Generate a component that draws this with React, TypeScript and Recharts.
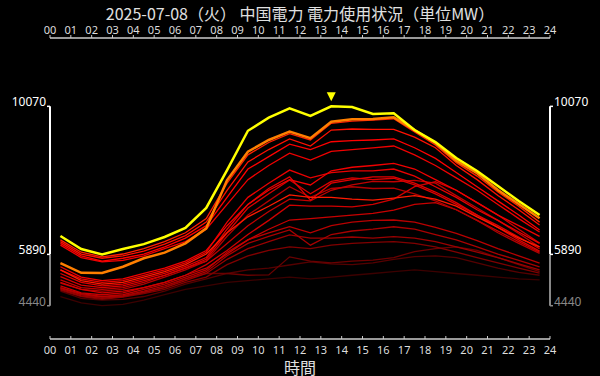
import React from 'react'
import { LineChart, Line, XAxis, YAxis, ReferenceLine, ReferenceDot } from 'recharts'

const hours = [0.5, 1.5, 2.5, 3.5, 4.5, 5.5, 6.5, 7.5, 8.5, 9.5, 10.5, 11.5, 12.5, 13.5, 14.5, 15.5, 16.5, 17.5, 18.5, 19.5, 20.5, 21.5, 22.5, 23.5]
const hourTicks = [0, 1, 2, 3, 4, 5, 6, 7, 8, 9, 10, 11, 12, 13, 14, 15, 16, 17, 18, 19, 20, 21, 22, 23, 24]
const yTicks = [4440, 5890, 10070]

// today's forecast (yellow) and yesterday (orange)
const today = [6410, 6040, 5890, 6040, 6180, 6380, 6635, 7200, 8270, 9380, 9750, 10015, 9800, 10070, 10050, 9855, 9875, 9400, 9060, 8610, 8245, 7820, 7395, 7000]
const yesterday = [5640, 5370, 5365, 5540, 5780, 5940, 6200, 6625, 7990, 8790, 9120, 9355, 9170, 9635, 9705, 9715, 9760, 9400, 9035, 8535, 8180, 7705, 7310, 6910]

// past days, darkest (oldest) first
const d01 = [4700, 4520, 4440, 4480, 4600, 4750, 4900, 5000, 5100, 5150, 5200, 5250, 5200, 5250, 5300, 5350, 5400, 5450, 5400, 5350, 5300, 5250, 5200, 5170]
const d02 = [4850, 4650, 4600, 4620, 4700, 4850, 5050, 5200, 5350, 5450, 5500, 5590, 5680, 5620, 5600, 5650, 5750, 5824, 5850, 5800, 5650, 5500, 5380, 5300]
const d03 = [4950, 4750, 4650, 4700, 4800, 4950, 5200, 5350, 5350, 5300, 5310, 5820, 5700, 5650, 5700, 5730, 5800, 5970, 6050, 6100, 6000, 5800, 5600, 5400]
const d04 = [4880, 4700, 4620, 4680, 4780, 4900, 5100, 5250, 5600, 5850, 6000, 6100, 6050, 6150, 6200, 6230, 6250, 6200, 6100, 5950, 5800, 5650, 5500, 5360]
const d05 = [4900, 4720, 4650, 4700, 4820, 4950, 5150, 5350, 5750, 6050, 6250, 6440, 6350, 6350, 6380, 6350, 6390, 6350, 6250, 6100, 5950, 5800, 5620, 5450]
const d06 = [4930, 4750, 4680, 4720, 4850, 5000, 5200, 5400, 5850, 6200, 6400, 6580, 6150, 6450, 6550, 6600, 6670, 6600, 6450, 6300, 6100, 5900, 5720, 5540]
const d07 = [4950, 4780, 4700, 4750, 4900, 5050, 5250, 5450, 5950, 6300, 6500, 6670, 6500, 6700, 6800, 6850, 6860, 6800, 6650, 6480, 6280, 6050, 5850, 5640]
const d08 = [5000, 4800, 4750, 4800, 4950, 5100, 5300, 5500, 5900, 6300, 6600, 6860, 6900, 6950, 7000, 7050, 7140, 7300, 7350, 7150, 6850, 6550, 6250, 5950]
const d09 = [5080, 4900, 4850, 4900, 5050, 5250, 5450, 5700, 6400, 7000, 7400, 7800, 7500, 7750, 7800, 7750, 7760, 7600, 7400, 7150, 6850, 6500, 6200, 5920]
const d10 = [5170, 4950, 4900, 4950, 5100, 5300, 5500, 5700, 6200, 6700, 7100, 7450, 7400, 7700, 7850, 7950, 7940, 7980, 7900, 7550, 7200, 6850, 6480, 6100]
const d11 = [5100, 4900, 4800, 4850, 4950, 5100, 5300, 5600, 6000, 6450, 6850, 7280, 7250, 7250, 7230, 7300, 7450, 7800, 7940, 7700, 7350, 7000, 6600, 6210]
const d12 = [5260, 5020, 4950, 5000, 5150, 5300, 5500, 5750, 6500, 7200, 7600, 7990, 7600, 7950, 8050, 8000, 8040, 7850, 7600, 7300, 7000, 6650, 6300, 5980]
const d13 = [5350, 5100, 5000, 5050, 5200, 5350, 5550, 5800, 6600, 7300, 7750, 8080, 7420, 7900, 8000, 8080, 8080, 7900, 7650, 7350, 7000, 6700, 6380, 6050]
const d14 = [5450, 5200, 5100, 5150, 5300, 5450, 5650, 5950, 6800, 7500, 7900, 8270, 8050, 8200, 8250, 8250, 8300, 8100, 7800, 7500, 7150, 6850, 6520, 6200]
const d15 = [5450, 5150, 5050, 5100, 5250, 5400, 5600, 5900, 6500, 6950, 7250, 7570, 7500, 7500, 7450, 7420, 7480, 7550, 7450, 7250, 6950, 6650, 6350, 6100]
const d16 = [5540, 5250, 5150, 5200, 5350, 5500, 5700, 6000, 6700, 7300, 7700, 8000, 7850, 8250, 8350, 8400, 8460, 8300, 8000, 7700, 7350, 7000, 6700, 6400]
const d17 = [6150, 5800, 5680, 5720, 5850, 6050, 6250, 6600, 7300, 8000, 8400, 8750, 8550, 8800, 8850, 8900, 8950, 8700, 8400, 8050, 7700, 7300, 6900, 6520]
const d18 = [6200, 5850, 5700, 5780, 5900, 6100, 6350, 6700, 7500, 8300, 8650, 9000, 8850, 9070, 9100, 9120, 9150, 8900, 8600, 8200, 7800, 7400, 7000, 6580]
const d19 = [6250, 5900, 5780, 5850, 5980, 6180, 6420, 6800, 7700, 8500, 8850, 9150, 8950, 9400, 9430, 9420, 9420, 9200, 8900, 8400, 8000, 7550, 7150, 6720]
const d20 = [6300, 5950, 5820, 5900, 6050, 6250, 6500, 6900, 7900, 8700, 9050, 9300, 9120, 9590, 9650, 9680, 9720, 9350, 8980, 8480, 8100, 7650, 7250, 6800]

const pastDays = [d01, d02, d03, d04, d05, d06, d07, d08, d09, d10, d11, d12, d13, d14, d15, d16, d17, d18, d19, d20]
const pastColors = [
  '#3c0000', '#550000', '#6a0000', '#800000', '#9a0000', '#a80000', '#b80000', '#c80000', '#b00000', '#c00000',
  '#d00000', '#d80000', '#e00000', '#e80000', '#ff1a00', '#f00000', '#f00000', '#ff0000', '#ff1000', '#ff2000',
]

const data = hours.map((h, i) => {
  const row: any = { h, today: today[i], yesterday: yesterday[i] }
  pastDays.forEach((d, k) => { row[`p${k}`] = d[i] })
  return row
})

const peakIdx = today.indexOf(Math.max(...today))
const font = '"Noto Sans CJK JP", "Noto Sans", sans-serif'
const digitFont = '"Noto Sans", sans-serif'
const pad = (v: number) => String(v).padStart(2, '0')

const TopTick = ({ x, payload }: any) => (
  <g>
    <line x1={x} x2={x} y1={35} y2={38} stroke="#ccc" />
    <text x={x} y={33.5} textAnchor="middle" fill="#ddd" fontSize={11} fontFamily={digitFont}>{pad(payload.value)}</text>
  </g>
)

const BottomTick = ({ x, payload }: any) => (
  <g>
    <line x1={x} x2={x} y1={336} y2={339} stroke="#ccc" />
    <text x={x} y={353.5} textAnchor="middle" fill="#ddd" fontSize={11} fontFamily={digitFont}>{pad(payload.value)}</text>
  </g>
)

const tickColor = (v: number) => (v === yTicks[0] ? '#888' : '#fff')

const LeftTick = ({ y, payload }: any) => (
  <g>
    <line x1={47} x2={50} y1={y} y2={y} stroke={tickColor(payload.value)} strokeWidth={1.5} />
    <text x={46} y={y} textAnchor="end" fill={tickColor(payload.value)} fontSize={12} fontFamily={digitFont}>{payload.value}</text>
  </g>
)

const RightTick = ({ y, payload }: any) => (
  <g>
    <line x1={550} x2={553} y1={y} y2={y} stroke={tickColor(payload.value)} strokeWidth={1.5} />
    <text x={554} y={y} textAnchor="start" fill={tickColor(payload.value)} fontSize={12} fontFamily={digitFont}>{payload.value}</text>
  </g>
)

const Marker = ({ cx, cy }: any) => (
  <path d={`M${cx - 4.5},${cy - 14} L${cx + 4.5},${cy - 14} L${cx},${cy - 5} Z`} fill="#ffff00" />
)

export default function App() {
  return (
    <div style={{ position: 'relative', width: 600, height: 376, background: '#000', fontFamily: font }}>
      <style>{`body{margin:0;background:#000}`}</style>
      <div style={{ position: 'absolute', top: 4, left: 0, width: 600, height: 18, lineHeight: '18px', textAlign: 'center', color: '#e0e0e0', fontSize: 16 }}>
        2025-07-08（火） 中国電力 電力使用状況（単位MW）
      </div>
      <div style={{ position: 'absolute', top: 358, left: 0, width: 600, height: 18, lineHeight: '18px', textAlign: 'center', color: '#e0e0e0', fontSize: 16 }}>
        時間
      </div>
      <LineChart width={600} height={376} data={data} margin={{ top: 18, right: 0, bottom: 17, left: 0 }}>
        <XAxis xAxisId="top" orientation="top" dataKey="h" type="number" domain={[0, 24]} ticks={hourTicks}
          height={20} axisLine={{ stroke: '#ccc', strokeWidth: 1.5 }} tickLine={false} tick={TopTick} interval={0} />
        <XAxis xAxisId="bottom" orientation="bottom" dataKey="h" type="number" domain={[0, 24]} ticks={hourTicks}
          height={20} axisLine={{ stroke: '#ccc', strokeWidth: 1.5 }} tickLine={false} tick={BottomTick} interval={0} />
        <YAxis yAxisId="left" orientation="left" width={50} domain={[3500, 12000]} allowDataOverflow ticks={yTicks}
          axisLine={false} tickLine={false} tick={LeftTick} interval={0} />
        <YAxis yAxisId="right" orientation="right" width={50} domain={[3500, 12000]} allowDataOverflow ticks={yTicks}
          axisLine={false} tickLine={false} tick={RightTick} interval={0} />

        <ReferenceLine xAxisId="bottom" yAxisId="left" ifOverflow="visible" stroke="#fff" strokeWidth={2}
          segment={[{ x: 0, y: yTicks[2] }, { x: 0, y: yTicks[1] }]} />
        <ReferenceLine xAxisId="bottom" yAxisId="left" ifOverflow="visible" stroke="#888" strokeWidth={2}
          segment={[{ x: 0, y: yTicks[1] }, { x: 0, y: yTicks[0] }]} />
        <ReferenceLine xAxisId="bottom" yAxisId="right" ifOverflow="visible" stroke="#fff" strokeWidth={2}
          segment={[{ x: 24, y: yTicks[2] }, { x: 24, y: yTicks[1] }]} />
        <ReferenceLine xAxisId="bottom" yAxisId="right" ifOverflow="visible" stroke="#888" strokeWidth={2}
          segment={[{ x: 24, y: yTicks[1] }, { x: 24, y: yTicks[0] }]} />

        {pastDays.map((_, k) => (
          <Line key={k} xAxisId="bottom" yAxisId="left" type="linear" dataKey={`p${k}`} stroke={pastColors[k]}
            strokeWidth={1.3} dot={false} activeDot={false} isAnimationActive={false} />
        ))}
        <Line xAxisId="bottom" yAxisId="left" type="linear" dataKey="yesterday" stroke="#ff7f00" strokeWidth={2.5}
          dot={false} activeDot={false} isAnimationActive={false} />
        <Line xAxisId="top" yAxisId="right" type="linear" dataKey="today" stroke="#ffff00" strokeWidth={2.5}
          dot={false} activeDot={false} isAnimationActive={false} />
        <ReferenceDot xAxisId="top" yAxisId="right" x={hours[peakIdx]} y={today[peakIdx]} ifOverflow="visible" shape={Marker} />
      </LineChart>
    </div>
  )
}
